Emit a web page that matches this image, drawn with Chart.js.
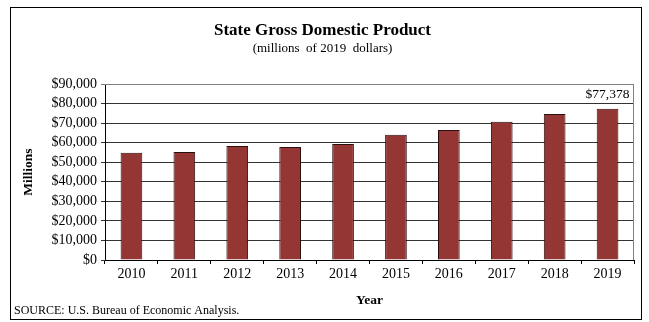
<!DOCTYPE html>
<html>
<head>
<meta charset="utf-8">
<script src="https://cdn.jsdelivr.net/npm/chart.js@4.4.1/dist/chart.umd.min.js"></script>
<style>
  html, body { margin: 0; padding: 0; background: #fff; }
  #wrap { position: relative; width: 649px; height: 322px; }
  canvas { display: block; }
</style>
</head>
<body>
<div id="wrap"><canvas id="c" width="649" height="322"></canvas></div>
<script>
const years = ['2010','2011','2012','2013','2014','2015','2016','2017','2018','2019'];
const gdpMillions = [54800, 55200, 58300, 57800, 59300, 64000, 66500, 70700, 74700, 77378];
const yTickLabels = ['$0','$10,000','$20,000','$30,000','$40,000','$50,000','$60,000','$70,000','$80,000','$90,000'];
const labeledIndex = 9;
const sourceNote = 'SOURCE: U.S. Bureau of Economic Analysis.';

const SERIF = '"Liberation Serif", "Times New Roman", serif';

const framePlugin = {
  id: 'frame',
  afterDraw(chart) {
    const ctx = chart.ctx;
    const a = chart.chartArea;
    ctx.save();
    // plot area top/right border
    ctx.strokeStyle = '#808080';
    ctx.lineWidth = 1;
    ctx.beginPath();
    ctx.moveTo(a.left, a.top + 0.5);
    ctx.lineTo(a.right - 0.5, a.top + 0.5);
    ctx.lineTo(a.right - 0.5, a.bottom);
    ctx.stroke();
    // outer border
    ctx.strokeStyle = '#000';
    ctx.lineWidth = 1;
    ctx.strokeRect(10.5, 7.5, 631, 312);
    // source note
    ctx.fillStyle = '#000';
    ctx.font = '12px ' + SERIF;
    ctx.textAlign = 'left';
    ctx.textBaseline = 'alphabetic';
    ctx.fillText(sourceNote, 14, 314);
    // data label for last bar
    const meta = chart.getDatasetMeta(0);
    const bar = meta.data[labeledIndex];
    const v = chart.data.datasets[0].data[labeledIndex];
    ctx.font = '13.5px ' + SERIF;
    ctx.textAlign = 'center';
    ctx.textBaseline = 'middle';
    ctx.fillText('$' + v.toLocaleString('en-US'), bar.x, a.top + 10);
    ctx.restore();
  }
};

new Chart(document.getElementById('c'), {
  type: 'bar',
  data: {
    labels: years,
    datasets: [{
      data: gdpMillions,
      backgroundColor: '#943634',
      borderColor: '#2a0f0e',
      borderWidth: 1,
      categoryPercentage: 1,
      barPercentage: 0.41
    }]
  },
  options: {
    responsive: false,
    animation: false,
    devicePixelRatio: 1,
    layout: { padding: { left: 11, right: 15, top: 0, bottom: 8 } },
    plugins: {
      legend: { display: false },
      tooltip: { enabled: false },
      title: {
        display: true,
        text: 'State Gross Domestic Product',
        color: '#000',
        font: { family: SERIF, size: 17, weight: 'bold', lineHeight: 1.2 },
        padding: { top: 20, bottom: 0 }
      },
      subtitle: {
        display: true,
        text: '(millions  of 2019  dollars)',
        color: '#000',
        font: { family: SERIF, size: 13, lineHeight: 1.2 },
        padding: { top: 0, bottom: 28 }
      }
    },
    scales: {
      x: {
        grid: {
          display: true,
          drawOnChartArea: false,
          drawTicks: true,
          tickLength: 4,
          offset: true,
          color: '#000'
        },
        border: { display: true, color: '#000', width: 1 },
        ticks: {
          color: '#000',
          font: { family: SERIF, size: 14 },
          padding: 2,
          maxRotation: 0,
          autoSkip: false
        },
        title: {
          display: true,
          text: 'Year',
          color: '#000',
          font: { family: SERIF, size: 13.5, weight: 'bold', lineHeight: 1.2 },
          padding: { top: 0, bottom: 5 }
        },
        afterFit(scale) { scale.height = 54; }
      },
      y: {
        min: 0,
        max: 90000,
        ticks: {
          stepSize: 10000,
          autoSkip: false,
          color: '#000',
          font: { family: SERIF, size: 14 },
          padding: 4,
          callback: (val) => yTickLabels[Math.round(val / 10000)]
        },
        grid: {
          color: (c) => (c.tick && c.tick.value === 90000) ? '#808080' : '#333',
          lineWidth: 1,
          tickLength: 4,
          drawTicks: true
        },
        border: { display: true, color: '#000', width: 1 },
        title: {
          display: true,
          text: 'Millions',
          color: '#000',
          font: { family: SERIF, size: 13.5, weight: 'bold', lineHeight: 1.2 },
          padding: { top: 9, bottom: 0 }
        },
        afterFit(scale) { scale.width = 94; }
      }
    }
  },
  plugins: [framePlugin]
});
</script>
</body>
</html>
